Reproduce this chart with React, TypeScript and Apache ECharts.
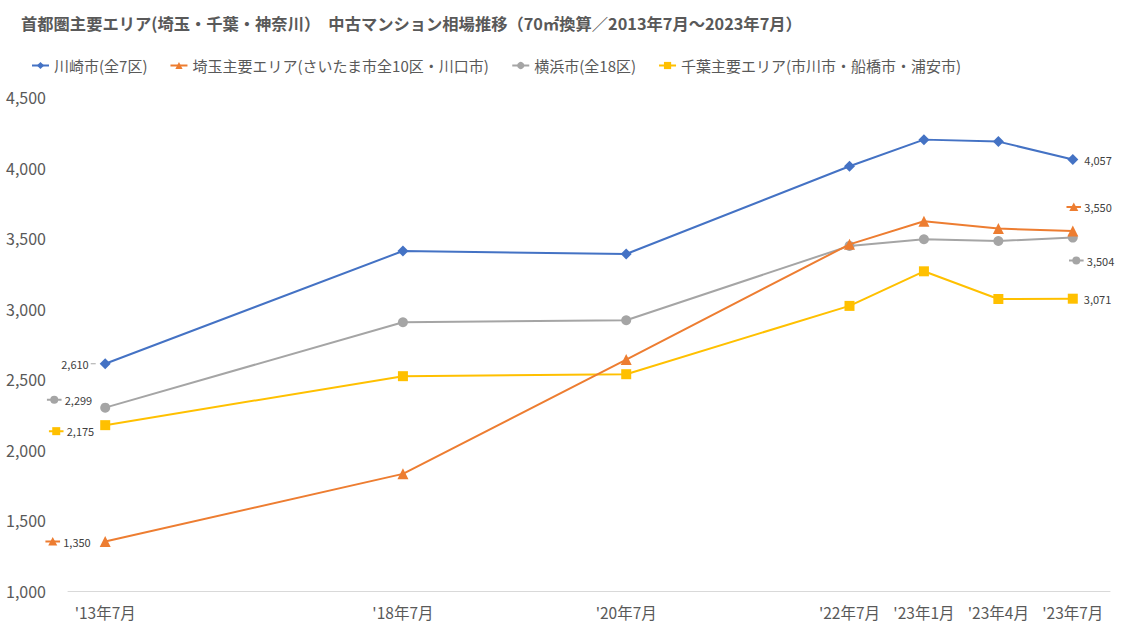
import React, { useEffect, useRef } from "react";
import * as echarts from "echarts";

const TITLE =
  "首都圏主要エリア(埼玉・千葉・神奈川）　中古マンション相場推移（70㎡換算／2013年7月～2023年7月）";

// 14 equal slots; empty slots keep the uneven spacing of the original axis
const categories = [
  "'13年7月", "", "", "", "'18年7月", "", "", "'20年7月", "", "", "'22年7月", "'23年1月", "'23年4月", "'23年7月",
];

const seriesNames = [
  "川崎市(全7区)",
  "埼玉主要エリア(さいたま市全10区・川口市)",
  "横浜市(全18区)",
  "千葉主要エリア(市川市・船橋市・浦安市)",
];

const kawasaki = [2610, null, null, null, 3409, null, null, 3388, null, null, 4009, 4198, 4184, 4057];
const saitama = [1350, null, null, null, 1830, null, null, 2640, null, null, 3456, 3620, 3568, 3550];
const yokohama = [2299, null, null, null, 2904, null, null, 2918, null, null, 3445, 3492, 3480, 3504];
const chiba = [2175, null, null, null, 2522, null, null, 2536, null, null, 3020, 3265, 3069, 3071];

const colors = ["#4472C4", "#ED7D31", "#A5A5A5", "#FFC000"];
const symbols = ["diamond", "triangle", "circle", "rect"];
const symbolSizes = [11, 11, 10, 10];

const FONT = "'Noto Sans CJK JP', 'Noto Sans', sans-serif";

function keyImage(color: string, shape: string): string {
  let m = "";
  if (shape === "triangle") m = `<polygon points="7.5,0.5 12,9 3,9" fill="${color}"/>`;
  else if (shape === "circle") m = `<circle cx="7.5" cy="5" r="4" fill="${color}"/>`;
  else if (shape === "rect") m = `<rect x="3.5" y="1" width="8" height="8" fill="${color}"/>`;
  else m = `<polygon points="7.5,0.5 12,5 7.5,9.5 3,5" fill="${color}"/>`;
  const svg = `<svg xmlns="http://www.w3.org/2000/svg" width="15" height="10" viewBox="0 0 15 10"><line x1="0" y1="5" x2="15" y2="5" stroke="${color}" stroke-width="2"/>${m}</svg>`;
  return "data:image/svg+xml;charset=utf-8," + encodeURIComponent(svg);
}

const fmt = (v: number) => v.toLocaleString("en-US");

function buildData(values: (number | null)[], idx: number) {
  const color = colors[idx];
  const shape = symbols[idx];
  const keyRich = {
    key: { width: 15, height: 10, backgroundColor: { image: keyImage(color, shape) } },
    v: { fontSize: 11, color: "#404040", fontFamily: FONT, padding: [0, 0, 0, 3] },
    d: { width: 5, height: 1, backgroundColor: "#a6a6a6" },
    p: { fontSize: 11, color: "#404040", fontFamily: FONT, padding: [0, 2, 0, 0] },
  };
  const firstLabel: any[] = [
    { position: "left", distance: 4, formatter: (p: any) => `{p|${fmt(p.value)}}{d|}` },
    { position: "left", distance: 5, offset: [-4, 0], formatter: (p: any) => `{key|}{v|${fmt(p.value)}}` },
    { position: "left", distance: 5, offset: [-3, -8], formatter: (p: any) => `{key|}{v|${fmt(p.value)}}` },
    { position: "left", distance: 5, offset: [-1, 6], formatter: (p: any) => `{key|}{v|${fmt(p.value)}}` },
  ];
  const lastLabel: any[] = [
    { position: "right", distance: 6, formatter: (p: any) => fmt(p.value) },
    { position: "right", distance: 5, offset: [-17, -24], formatter: (p: any) => `{key|}{v|${fmt(p.value)}}` },
    { position: "right", distance: 5, offset: [-14, 23], formatter: (p: any) => `{key|}{v|${fmt(p.value)}}` },
    { position: "right", distance: 6, formatter: (p: any) => fmt(p.value) },
  ];
  const lastIdx = values.length - 1;
  return values.map((v, i) => {
    if (v === null) return null;
    if (i === 0 || i === lastIdx) {
      const cfg = i === 0 ? firstLabel[idx] : lastLabel[idx];
      return {
        value: v,
        label: {
          show: true,
          fontSize: 11,
          color: "#404040",
          fontFamily: FONT,
          rich: keyRich,
          ...cfg,
        },
      };
    }
    return v;
  });
}

export default function App() {
  const ref = useRef<HTMLDivElement>(null);
  useEffect(() => {
    if (!ref.current) return;
    const chart = echarts.init(ref.current, undefined, { renderer: "svg" });
    const allValues = [kawasaki, saitama, yokohama, chiba];
    chart.setOption({
      animation: false,
      backgroundColor: "#ffffff",
      textStyle: { fontFamily: FONT },
      title: {
        text: TITLE,
        left: 16,
        top: 10,
        textStyle: { fontSize: 16.3, fontWeight: "bold", color: "#595959", fontFamily: FONT },
      },
      legend: {
        left: 26,
        top: 53,
        itemWidth: 17,
        itemHeight: 9,
        itemGap: 22,
        textStyle: { fontSize: 15, color: "#595959", fontFamily: FONT },
        data: seriesNames,
      },
      grid: { left: 68, right: 12, top: 97, bottom: 44, containLabel: false },
      xAxis: {
        type: "category",
        data: categories,
        boundaryGap: true,
        axisTick: { show: false },
        axisLine: { lineStyle: { color: "#d9d9d9", width: 1 } },
        axisLabel: { interval: 0, fontSize: 15.5, color: "#595959", margin: 13, fontFamily: FONT },
      },
      yAxis: {
        type: "value",
        min: 1000,
        max: 4500,
        interval: 500,
        splitLine: { show: false },
        axisLine: { show: false },
        axisTick: { show: false },
        axisLabel: {
          fontSize: 16,
          color: "#595959",
          margin: 22,
          fontFamily: FONT,
          formatter: (v: number) => fmt(v),
        },
      },
      series: allValues.map((vals, idx) => ({
        name: seriesNames[idx],
        type: "line",
        data: buildData(vals, idx),
        connectNulls: true,
        symbol: symbols[idx],
        symbolSize: symbolSizes[idx],
        itemStyle: { color: colors[idx] },
        lineStyle: { color: colors[idx], width: 2 },
        label: { show: false },
        z: 10 - idx,
      })),
    });
    return () => chart.dispose();
  }, []);
  return <div ref={ref} style={{ width: 1122, height: 635, position: "absolute", left: 0, top: 0 }} />;
}
